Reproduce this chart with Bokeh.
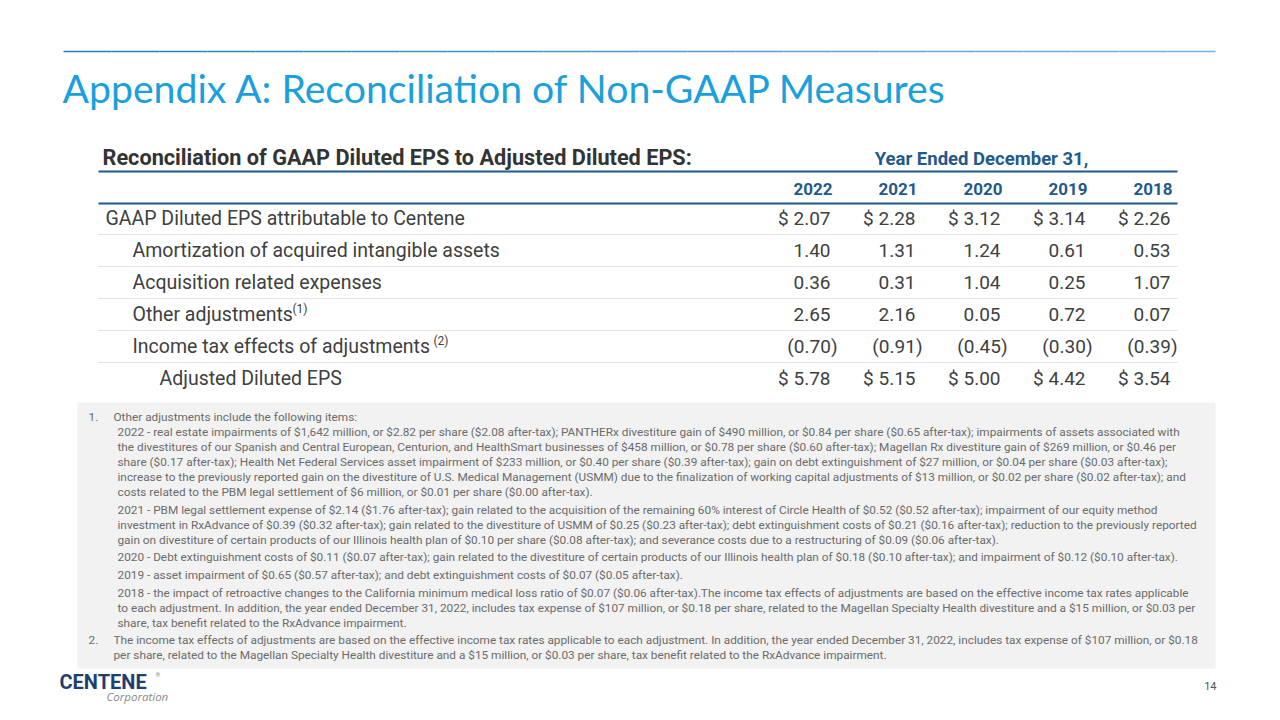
from bokeh.plotting import figure
from bokeh.models import Range1d
from bokeh.embed import file_html
from bokeh.resources import INLINE
from bokeh.core.properties import value

# ---------------- data ----------------
title = "Appendix A: Reconciliation of Non-GAAP Measures"
table_title = "Reconciliation of GAAP Diluted EPS to Adjusted Diluted EPS:"
period_label = "Year Ended December 31,"
years = ["2022", "2021", "2020", "2019", "2018"]
row_labels = [
    "GAAP Diluted EPS attributable to Centene",
    "Amortization of acquired intangible assets",
    "Acquisition related expenses",
    "Other adjustments",
    "Income tax effects of adjustments",
    "Adjusted Diluted EPS",
]
row_indent = [0, 1, 1, 1, 1, 2]
row_dollar = [True, False, False, False, False, True]
row_note = ["", "", "", "(1)", "(2)", ""]
gaap_eps = [2.07, 2.28, 3.12, 3.14, 2.26]
amortization = [1.40, 1.31, 1.24, 0.61, 0.53]
acquisition = [0.36, 0.31, 1.04, 0.25, 1.07]
other_adj = [2.65, 2.16, 0.05, 0.72, 0.07]
income_tax = [-0.70, -0.91, -0.45, -0.30, -0.39]
adjusted_eps = [5.78, 5.15, 5.00, 4.42, 3.54]
table_values = [gaap_eps, amortization, acquisition, other_adj, income_tax, adjusted_eps]

footnotes = [
    ("1.", 0, "Other adjustments include the following items:"),
    ("", 1, "2022 - real estate impairments of $1,642 million, or $2.82 per share ($2.08 after-tax); PANTHERx divestiture gain of $490 million, or $0.84 per share ($0.65 after-tax); impairments of assets associated with"),
    ("", 1, "the divestitures of our Spanish and Central European, Centurion, and HealthSmart businesses of $458 million, or $0.78 per share ($0.60 after-tax); Magellan Rx divestiture gain of $269 million, or $0.46 per"),
    ("", 1, "share ($0.17 after-tax); Health Net Federal Services asset impairment of $233 million, or $0.40 per share ($0.39 after-tax); gain on debt extinguishment of $27 million, or $0.04 per share ($0.03 after-tax);"),
    ("", 1, "increase to the previously reported gain on the divestiture of U.S. Medical Management (USMM) due to the finalization of working capital adjustments of $13 million, or $0.02 per share ($0.02 after-tax); and"),
    ("", 1, "costs related to the PBM legal settlement of $6 million, or $0.01 per share ($0.00 after-tax)."),
    ("", 1, "2021 - PBM legal settlement expense of $2.14 ($1.76 after-tax); gain related to the acquisition of the remaining 60% interest of Circle Health of $0.52 ($0.52 after-tax); impairment of our equity method"),
    ("", 1, "investment in RxAdvance of $0.39 ($0.32 after-tax); gain related to the divestiture of USMM of $0.25 ($0.23 after-tax); debt extinguishment costs of $0.21 ($0.16 after-tax); reduction to the previously reported"),
    ("", 1, "gain on divestiture of certain products of our Illinois health plan of $0.10 per share ($0.08 after-tax); and severance costs due to a restructuring of $0.09 ($0.06 after-tax)."),
    ("", 1, "2020 - Debt extinguishment costs of $0.11 ($0.07 after-tax); gain related to the divestiture of certain products of our Illinois health plan of $0.18 ($0.10 after-tax); and impairment of $0.12 ($0.10 after-tax)."),
    ("", 1, "2019 - asset impairment of $0.65 ($0.57 after-tax); and debt extinguishment costs of $0.07 ($0.05 after-tax)."),
    ("", 1, "2018 - the impact of retroactive changes to the California minimum medical loss ratio of $0.07 ($0.06 after-tax).The income tax effects of adjustments are based on the effective income tax rates applicable"),
    ("", 1, "to each adjustment. In addition, the year ended December 31, 2022, includes tax expense of $107 million, or $0.18 per share, related to the Magellan Specialty Health divestiture and a $15 million, or $0.03 per"),
    ("", 1, "share, tax benefit related to the RxAdvance impairment."),
    ("2.", 0, "The income tax effects of adjustments are based on the effective income tax rates applicable to each adjustment. In addition, the year ended December 31, 2022, includes tax expense of $107 million, or $0.18"),
    ("", 0, "per share, related to the Magellan Specialty Health divestiture and a $15 million, or $0.03 per share, tax benefit related to the RxAdvance impairment."),
]
footnote_y = [416, 431, 446, 461, 476, 491, 509, 524, 539, 556, 574, 592, 607, 622, 639, 654]
page_number = "14"

# ---------------- styles ----------------
TITLE_BLUE = "#1aa0dc"
DARK_BLUE = "#1f5a8c"
TEXT = "#404040"
FOOT = "#6b6b6b"
TBL_FONT = value("Roboto")

p = figure(width=1264, height=704, x_range=Range1d(0, 1264), y_range=Range1d(704, 0),
           output_backend="svg", toolbar_location=None, min_border=0)
p.axis.visible = False
p.grid.visible = False
p.outline_line_color = None
p.background_fill_color = "white"
p.border_fill_color = "white"

# top rule with a gentle gradient
n = 24
x0, x1 = 63, 1215
c0 = (0x2a, 0x7d, 0xb6)
c1 = (0x6f, 0xb9, 0xe0)
for i in range(n):
    t = i / (n - 1)
    col = "#%02x%02x%02x" % tuple(int(a + (b - a) * t) for a, b in zip(c0, c1))
    xa = x0 + (x1 - x0) * i / n
    xb = x0 + (x1 - x0) * (i + 1) / n
    p.segment(x0=[xa], y0=[51], x1=[xb], y1=[51], line_color=col, line_width=1.5)

p.text(x=[62], y=[87], text=[title], text_font=value("Lato"), text_font_size="39.2px",
       text_color=TITLE_BLUE, text_baseline="middle")

# table header
p.text(x=[102], y=[157], text=[table_title], text_font=TBL_FONT, text_font_style="bold",
       text_font_size="21.7px", text_color="#333333", text_baseline="middle")
p.text(x=[981], y=[158], text=[period_label], text_font=TBL_FONT, text_font_style="bold",
       text_font_size="18.5px", text_color=DARK_BLUE, text_baseline="middle", text_align="center")

tbl_left, tbl_right = 98, 1177
p.segment(x0=[tbl_left], y0=[171], x1=[tbl_right], y1=[171], line_color=DARK_BLUE, line_width=2.2)
p.segment(x0=[tbl_left], y0=[203], x1=[tbl_right], y1=[203], line_color=DARK_BLUE, line_width=2.2)

col_right0, col_step = 830, 85
col_right = [col_right0 + i * col_step for i in range(len(years))]
p.text(x=[c + 2 for c in col_right], y=[188] * len(years), text=years, text_font=TBL_FONT,
       text_font_style="bold", text_font_size="17px", text_color=DARK_BLUE,
       text_baseline="middle", text_align="right")

row_y0, row_step = 218, 32
indent_x = [105, 132, 159]
note_x = {"(1)": 292, "(2)": 433}
for r, label in enumerate(row_labels):
    y = row_y0 + r * row_step
    p.text(x=[indent_x[row_indent[r]]], y=[y], text=[label], text_font=TBL_FONT,
           text_font_size="19.5px", text_color=TEXT, text_baseline="middle")
    if row_note[r]:
        p.text(x=[note_x[row_note[r]]], y=[y - 6], text=[row_note[r]], text_font=TBL_FONT,
               text_font_size="12px", text_color=TEXT, text_baseline="middle")
    vals = table_values[r]
    xs, txt = [], []
    for c, v in enumerate(vals):
        if v < 0:
            s = "(%.2f)" % abs(v)
            xs.append(col_right[c] + 7)
        else:
            s = ("$ " if row_dollar[r] else "") + "%.2f" % v
            xs.append(col_right[c])
        txt.append(s)
    p.text(x=xs, y=[y] * len(vals), text=txt, text_font=TBL_FONT, text_font_size="19px",
           text_color=TEXT, text_baseline="middle", text_align="right")
    if r < len(row_labels) - 1:
        p.segment(x0=[tbl_left], y0=[y + 16], x1=[tbl_right], y1=[y + 16],
                  line_color="#c8c8c8", line_width=1, line_dash="1 1")

# footnote panel
p.quad(left=[77], right=[1215], top=[402], bottom=[668], fill_color="#f2f2f2", line_color=None)
for (num, ind, txt), y in zip(footnotes, footnote_y):
    if num:
        p.text(x=[88], y=[y], text=[num], text_font=TBL_FONT, text_font_size="11.8px",
               text_color=FOOT, text_baseline="middle")
    p.text(x=[117 if ind else 113], y=[y], text=[txt], text_font=TBL_FONT, text_font_size="11.8px",
           text_color=FOOT, text_baseline="middle")

# logo + page number
p.text(x=[59], y=[681], text=["CENTENE"], text_font=value("Roboto"), text_font_style="bold",
       text_font_size="20px", text_color="#1f3f6e", text_baseline="middle")
p.text(x=[155], y=[674], text=["®"], text_font=value("Roboto"), text_font_size="6px",
       text_color="#888888", text_baseline="middle")
p.text(x=[106], y=[696], text=["Corporation"], text_font=value("Open Sans"), text_font_style="italic",
       text_font_size="11.5px", text_color="#8a8a8a", text_baseline="middle")
p.text(x=[1216], y=[685], text=[page_number], text_font=value("Roboto"), text_font_size="11px",
       text_color="#555555", text_baseline="middle", text_align="right")

open("out.html", "w").write(file_html(p, INLINE))
